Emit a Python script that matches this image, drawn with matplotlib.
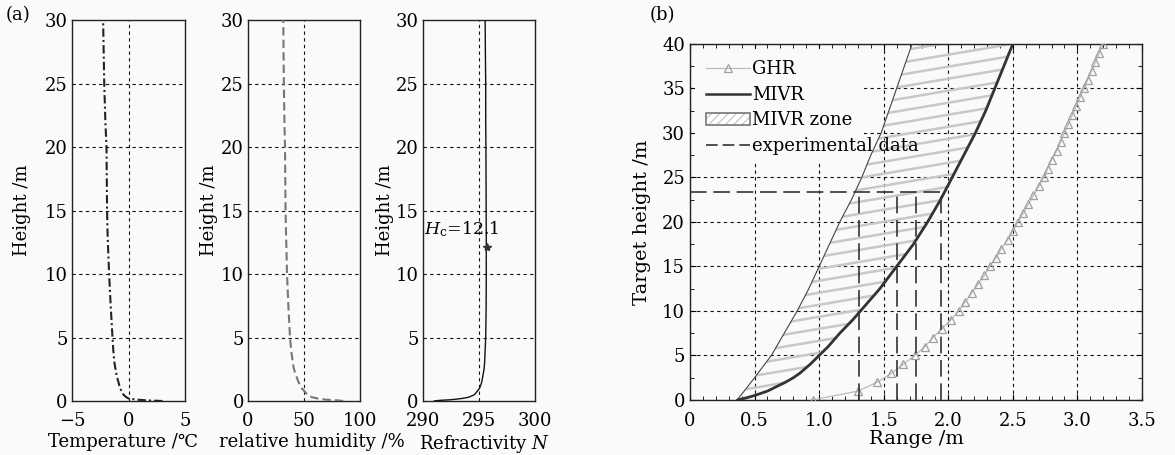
import numpy as np
import matplotlib
matplotlib.use("Agg")
import matplotlib.pyplot as plt
from matplotlib.lines import Line2D
from matplotlib.patches import Patch, Polygon, Rectangle
from matplotlib.legend_handler import HandlerTuple
from matplotlib.ticker import MultipleLocator

plt.rcParams['font.family'] = ['DejaVu Serif', 'DejaVu Sans']
plt.rcParams['mathtext.fontset'] = 'dejavuserif'
plt.rcParams['font.size'] = 13

# (a) profiles
h_prof = [0.0, 0.05, 0.1, 0.2, 0.3, 0.5, 1.0, 1.5, 2.0, 2.5, 3.0, 4.0, 5.0,
          7.5, 10.0, 13.0, 15.0, 20.0, 22.0, 25.0, 27.5, 30.0]
temp = [3.0, 1.6, 0.8, 0.0, -0.2, -0.45, -0.75, -0.9, -1.05, -1.15, -1.25, -1.35,
        -1.42, -1.58, -1.72, -1.85, -1.9, -1.95, -2.05, -2.15, -2.2, -2.25]
rh = [85, 80, 70, 62, 57, 53, 48, 45, 43, 41, 40, 38.5, 37.5,
      36, 34.8, 34, 33.5, 33, 32.5, 32, 31.7, 31.5]
refr = [291.0, 291.5, 292.5, 293.5, 294.1, 294.6, 295.05, 295.25, 295.35, 295.45,
        295.5, 295.55, 295.6, 295.64, 295.65, 295.65, 295.64, 295.62, 295.6, 295.6,
        295.57, 295.55]
hc_n, hc = 295.7, 12.1

# (b) ranges
ghr_h = list(range(0, 41))
ghr_r = [0.95, 1.30, 1.45, 1.56, 1.65, 1.74, 1.82, 1.88, 1.95, 2.02, 2.08, 2.13,
         2.18, 2.23, 2.28, 2.32, 2.37, 2.41, 2.46, 2.50, 2.54, 2.58, 2.62, 2.66,
         2.70, 2.74, 2.77, 2.80, 2.84, 2.87, 2.90, 2.93, 2.96, 2.99, 3.02, 3.05,
         3.08, 3.11, 3.14, 3.17, 3.20]
mivr_h = [0, 0.25, 0.5, 1, 1.5, 2, 2.5, 3, 4, 5, 6, 7.5, 9, 10, 12.5, 15, 17.5,
          20, 22.5, 25, 27.5, 30, 32.5, 35, 37.5, 40]
mivr_r = [0.37, 0.44, 0.50, 0.60, 0.67, 0.74, 0.80, 0.85, 0.93, 1.00, 1.07, 1.16,
          1.26, 1.32, 1.47, 1.60, 1.73, 1.84, 1.94, 2.03, 2.12, 2.21, 2.29, 2.36,
          2.43, 2.50]
zone_h = [0, 1, 2.5, 5, 7.5, 10, 12.5, 15, 17.5, 20, 22.5, 25, 27.5, 30, 32.5,
          35, 37.5, 40]
zone_r = [0.365, 0.42, 0.50, 0.63, 0.73, 0.83, 0.92, 1.0, 1.08, 1.16, 1.25, 1.33,
          1.40, 1.48, 1.54, 1.60, 1.66, 1.72]
exp_r = [1.31, 1.60, 1.75, 1.94]
exp_h = 23.4

bg = '#fafafa'
fig = plt.figure(figsize=(11.75, 4.55), dpi=100, facecolor=bg)

grid_kw = dict(color='#111111', lw=0.8, dashes=(3, 3))


def style_a(ax, xlim, xticks, vgrid):
    ax.set_facecolor(bg)
    ax.set_xlim(xlim)
    ax.set_ylim(0, 30)
    ax.set_xticks(xticks)
    ax.set_yticks([0, 5, 10, 15, 20, 25, 30])
    ax.tick_params(direction='in', length=0, labelsize=13)
    ax.tick_params(axis='x', pad=8)
    ax.tick_params(axis='y', pad=3)
    for y in [5, 10, 15, 20, 25]:
        ax.axhline(y, zorder=1, **grid_kw)
    ax.axvline(vgrid, zorder=1, **grid_kw)
    for s in ax.spines.values():
        s.set_color('#222222')
        s.set_linewidth(1.0)


ax1 = fig.add_axes([0.0613, 0.1187, 0.0962, 0.837])
ax2 = fig.add_axes([0.2111, 0.1187, 0.0953, 0.837])
ax3 = fig.add_axes([0.3600, 0.1187, 0.0953, 0.837])

style_a(ax1, (-5, 5), [-5, 0, 5], 0)
ax1.plot(temp, h_prof, color='#222222', lw=1.5, dashes=(4, 1.5, 1, 1.5), zorder=3)
ax1.set_xlabel('Temperature /\u2103', labelpad=0)
ax1.xaxis.set_label_coords(0.45, -0.085)
ax1.set_ylabel('Height /m', labelpad=10)

style_a(ax2, (0, 100), [0, 50, 100], 50)
ax2.plot(rh, h_prof, color='#777777', lw=1.5, dashes=(4, 2), zorder=3)
ax2.set_xlabel('relative humidity /%', labelpad=0)
ax2.xaxis.set_label_coords(0.57, -0.085)
ax2.set_ylabel('Height /m', labelpad=2)

style_a(ax3, (290, 300), [290, 295, 300], 295)
ax3.plot(refr, h_prof, color='#111111', lw=1.0, zorder=3)
ax3.plot([hc_n], [hc], marker='*', color='#333333', ms=6, zorder=4)
ax3.text(290.05, hc + 1.4, r'$H_{\mathrm{c}}$=12.1', fontsize=12.5, va='center', ha='left')
ax3.set_xlabel('Refractivity $N$', labelpad=0)
ax3.xaxis.set_label_coords(0.55, -0.085)
ax3.set_ylabel('Height /m', labelpad=1)

fig.text(0.005, 0.967, '(a)', fontsize=13, va='center', ha='left')
fig.text(662 / 1175, 1 - 15 / 455, '(b)', fontsize=13, va='center', ha='center')

# (b)
axb = fig.add_axes([0.5872, 0.1209, 0.3847, 0.7824])
axb.set_facecolor(bg)
axb.set_axisbelow(True)
axb.set_xlim(0, 3.5)
axb.set_ylim(0, 40)
axb.xaxis.set_minor_locator(MultipleLocator(0.1))
axb.yaxis.set_major_locator(MultipleLocator(5))
axb.yaxis.set_minor_locator(MultipleLocator(2.5))
axb.set_xticks(np.arange(0, 3.51, 0.5))
axb.set_xticklabels(['0', '0.5', '1.0', '1.5', '2.0', '2.5', '3.0', '3.5'])
axb.tick_params(which='both', direction='in', top=True, right=True, labelsize=13)
axb.tick_params(which='major', length=4)
axb.tick_params(which='minor', length=3)
axb.tick_params(axis='x', which='both', pad=9)
axb.grid(True, which='major', color='#111111', lw=0.8, dashes=(3, 3))
for s in axb.spines.values():
    s.set_color('#222222')
    s.set_linewidth(1.0)

# legend background box (hides the grid behind the legend)
axb.add_patch(Rectangle((0.012, 0.67), 0.373, 0.316, transform=axb.transAxes,
                        facecolor=bg, edgecolor='none', zorder=1.2))

# MIVR zone with hatching
zone = Polygon(np.column_stack([zone_r + mivr_r[::-1], zone_h + mivr_h[::-1]]),
               closed=True, facecolor='none', edgecolor='none', zorder=1.4)
axb.add_patch(zone)
hx = np.array([0.0, 3.5])
for c in np.arange(-12, 45, 1.35):
    ln, = axb.plot(hx, c + 2.45 * hx, color='#c8c8c8', lw=1.8, zorder=1.5,
                   solid_capstyle='butt')
    ln.set_clip_path(zone)

axb.plot(zone_r, zone_h, color='#444444', lw=0.8, zorder=3)
axb.plot(mivr_r, mivr_h, color='#333333', lw=2.0, zorder=3)
axb.plot(ghr_r, ghr_h, color='#bbbbbb', lw=0.9, marker='^', ms=5.5,
         mfc='none', mec='#a0a0a0', mew=0.9, zorder=3)

exp_kw = dict(color='#333333', lw=1.2, dashes=(10, 4), zorder=3)
axb.plot([0, max(exp_r)], [exp_h, exp_h], **exp_kw)
for r in exp_r:
    axb.plot([r, r], [0, exp_h], **exp_kw)

axb.set_xlabel('Range /m', fontsize=14, labelpad=0)
axb.set_ylabel('Target height /m', fontsize=14, labelpad=8)

handles = [
    Line2D([], [], color='#bbbbbb', lw=0.9, marker='^', ms=5.5, mfc='none',
           mec='#a0a0a0', mew=0.9),
    Line2D([], [], color='#333333', lw=1.8),
    (Patch(facecolor='white', edgecolor='#cccccc', hatch='////', lw=0),
     Patch(facecolor='none', edgecolor='#777777', lw=1.2)),
    Line2D([], [], color='#333333', lw=1.2, dashes=(7, 3)),
]
labels = ['GHR', 'MIVR', 'MIVR zone', 'experimental data']
axb.legend(handles, labels, loc='upper left', bbox_to_anchor=(0.0, 1.0),
           frameon=False, fontsize=13, handlelength=2.4, handletextpad=0.15,
           labelspacing=0.42, borderaxespad=0.5, borderpad=0.4,
           handler_map={tuple: HandlerTuple(ndivide=1, pad=0)})

fig.savefig('out.png', dpi=100, facecolor=bg)
